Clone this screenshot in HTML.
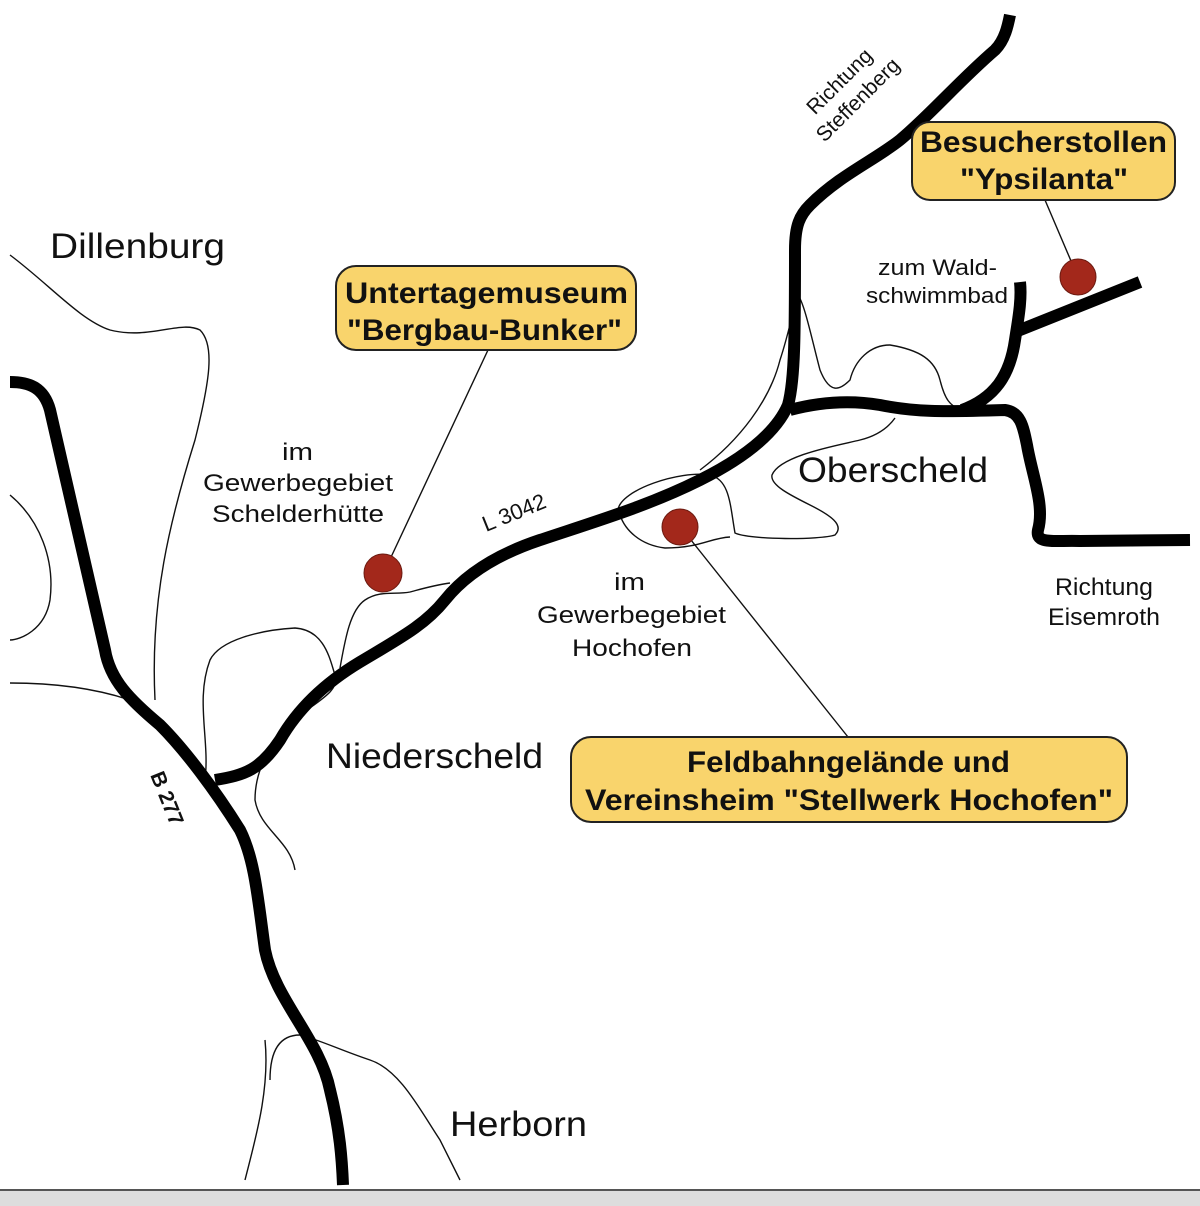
<!DOCTYPE html>
<html><head><meta charset="utf-8"><style>
body{margin:0;background:#fff}
svg{display:block}
text{font-family:"Liberation Sans",Arial,sans-serif;fill:#111}
.b{font-weight:bold;font-size:30px}
.n{font-size:24px}
.t{fill:none;stroke:#111;stroke-width:1.4}
.r{fill:none;stroke:#000;stroke-width:12;stroke-linecap:butt;stroke-linejoin:round}
</style></head><body>
<svg width="1200" height="1206" viewBox="0 0 1200 1206">
<rect x="0" y="1190" width="1200" height="16" fill="#ddd"/>
<line x1="0" y1="1190" x2="1200" y2="1190" stroke="#555" stroke-width="2"/>
<path class="t" d="M10,255 C50,285 80,320 110,330 C150,340 180,320 200,330 C215,345 210,380 195,440 C170,520 150,600 155,700"/>
<path class="t" d="M10,495 C40,520 55,560 50,600 C45,630 20,640 10,640"/>
<path class="t" d="M10,683 C60,683 100,690 130,700"/>
<path class="t" d="M205,780 C210,740 195,700 210,660 C220,640 260,630 295,628 C325,630 330,660 335,675 C340,690 320,700 300,715 C270,740 255,770 255,800 C260,830 290,840 295,870"/>
<path class="t" d="M340,668 C345,640 350,610 365,600 C380,590 395,595 410,592 C425,588 435,585 450,583"/>
<path class="t" d="M618,510 C620,490 680,470 710,475 C730,480 730,505 735,533 C750,540 820,540 835,535 C845,525 830,515 810,505 C790,495 770,485 772,475 C780,455 840,445 860,440 C880,435 890,425 895,418"/>
<path class="t" d="M620,515 C625,530 640,545 665,548 C700,548 710,538 730,537"/>
<path class="t" d="M700,470 C740,440 770,400 780,360 C790,330 795,300 798,295 C805,305 812,340 820,370 C830,395 840,390 850,380 C855,360 870,345 890,345 C920,350 935,360 940,380 C945,400 950,405 960,410"/>
<path class="t" d="M270,1080 C270,1050 280,1035 300,1035 C320,1040 340,1050 370,1060 C400,1070 420,1110 440,1140 C450,1160 455,1170 460,1180"/>
<path class="t" d="M265,1040 C270,1090 255,1140 245,1180"/>
<path class="r" d="M10,382 C30,382 44,388 50,410 L105,650 C110,680 130,700 160,725 C185,750 215,790 240,830 C255,860 258,900 265,950 C275,1000 320,1040 330,1090 C340,1130 342,1160 343,1185"/>
<path class="r" d="M215,780 C245,775 260,770 280,740 C300,705 330,680 360,662 C400,638 425,625 445,600 C465,575 495,555 540,540 C600,520 650,505 700,480 C740,460 775,435 788,405 C795,380 795,330 795,250 C795,225 800,215 810,205 C840,175 875,160 900,140 C930,115 960,80 995,50 C1005,40 1008,25 1010,15"/>
<path class="r" d="M790,410 C820,402 850,400 880,405 C915,412 940,412 1005,410 C1020,412 1023,425 1027,445 C1032,475 1045,505 1038,530 C1035,545 1055,540 1080,541 L1190,540"/>
<path class="r" d="M962,410 C995,398 1010,375 1015,340 C1018,320 1022,300 1020,282"/>
<path class="r" d="M1015,332 L1140,282"/>
<line x1="488" y1="350" x2="385" y2="570" stroke="#111" stroke-width="1.4"/>
<line x1="1045" y1="200" x2="1077" y2="275" stroke="#111" stroke-width="1.4"/>
<line x1="683" y1="530" x2="848" y2="737" stroke="#111" stroke-width="1.4"/>
<circle cx="383" cy="573" r="19" fill="#a3281b" stroke="#6b1a10" stroke-width="1"/>
<circle cx="680" cy="527" r="18" fill="#a3281b" stroke="#6b1a10" stroke-width="1"/>
<circle cx="1078" cy="277" r="18" fill="#a3281b" stroke="#6b1a10" stroke-width="1"/>
<rect x="336" y="266" width="300" height="84" rx="20" fill="#f9d46c" stroke="#222" stroke-width="2"/>
<text class="b" x="345" y="303" textLength="283" lengthAdjust="spacingAndGlyphs">Untertagemuseum</text>
<text class="b" x="347" y="340" textLength="275" lengthAdjust="spacingAndGlyphs">"Bergbau-Bunker"</text>
<rect x="912" y="122" width="263" height="78" rx="18" fill="#f9d46c" stroke="#222" stroke-width="2"/>
<text class="b" x="920" y="152" textLength="247" lengthAdjust="spacingAndGlyphs">Besucherstollen</text>
<text class="b" x="960" y="189" textLength="168" lengthAdjust="spacingAndGlyphs">"Ypsilanta"</text>
<rect x="571" y="737" width="556" height="85" rx="20" fill="#f9d46c" stroke="#222" stroke-width="2"/>
<text class="b" x="687" y="772" textLength="323" lengthAdjust="spacingAndGlyphs">Feldbahngelände und</text>
<text class="b" x="585" y="810" textLength="528" lengthAdjust="spacingAndGlyphs">Vereinsheim "Stellwerk Hochofen"</text>
<text x="50" y="258" font-size="35" textLength="175" lengthAdjust="spacingAndGlyphs">Dillenburg</text>
<text x="326" y="768" font-size="35" textLength="217" lengthAdjust="spacingAndGlyphs">Niederscheld</text>
<text x="798" y="482" font-size="35" textLength="190" lengthAdjust="spacingAndGlyphs">Oberscheld</text>
<text x="450" y="1136" font-size="35" textLength="137" lengthAdjust="spacingAndGlyphs">Herborn</text>
<text class="n" x="282" y="460" textLength="31" lengthAdjust="spacingAndGlyphs">im</text>
<text class="n" x="203" y="491" textLength="190" lengthAdjust="spacingAndGlyphs">Gewerbegebiet</text>
<text class="n" x="212" y="522" textLength="172" lengthAdjust="spacingAndGlyphs">Schelderhütte</text>
<text class="n" x="614" y="590" textLength="31" lengthAdjust="spacingAndGlyphs">im</text>
<text class="n" x="537" y="623" textLength="189" lengthAdjust="spacingAndGlyphs">Gewerbegebiet</text>
<text class="n" x="572" y="656" textLength="120" lengthAdjust="spacingAndGlyphs">Hochofen</text>
<text class="n" x="1055" y="595" textLength="98" lengthAdjust="spacingAndGlyphs">Richtung</text>
<text class="n" x="1048" y="625" textLength="112" lengthAdjust="spacingAndGlyphs">Eisemroth</text>
<text x="878" y="275" font-size="22" textLength="119" lengthAdjust="spacingAndGlyphs">zum Wald-</text>
<text x="866" y="303" font-size="22" textLength="142" lengthAdjust="spacingAndGlyphs">schwimmbad</text>
<text font-size="21" text-anchor="middle" transform="translate(850,92) rotate(-45)"><tspan x="0" y="-8">Richtung</tspan><tspan x="0" y="18">Steffenberg</tspan></text>
<text font-size="22" transform="translate(486,532) rotate(-22)">L 3042</text>
<text font-size="21" font-weight="bold" transform="translate(150,775) rotate(68)">B 277</text>
</svg>
</body></html>
